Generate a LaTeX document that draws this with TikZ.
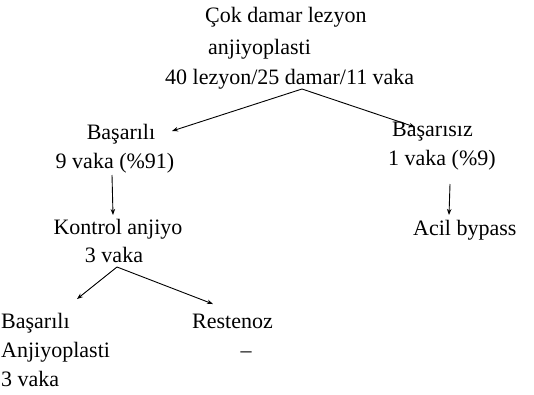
\documentclass[tikz,border=0pt]{standalone}
\usepackage{fontspec}
\setmainfont{Liberation Serif}
\usetikzlibrary{arrows.meta}
\begin{document}
\begin{tikzpicture}[x=1pt,y=-1pt,
  txt/.style={inner sep=0pt,font=\fontsize{22}{26}\selectfont},
  arr/.style={-{Stealth[length=6pt,width=4.5pt]},line width=0.9pt}]
\useasboundingbox (0,0) rectangle (534,394);
\node[txt,anchor=base west] (top1) at (205,22) {Çok damar lezyon};
\node[txt,anchor=base west] (top2) at (208,54) {anjiyoplasti};
\node[txt,anchor=base west] (top3) at (165,84) {40 lezyon/25 damar/11 vaka};
\node[txt,anchor=base] (b1) at (121,139) {Başarılı};
\node[txt,anchor=base] (b2) at (115,168) {9 vaka (\%91)};
\node[txt,anchor=base west] (s1) at (392,136) {Başarısız};
\node[txt,anchor=base west] (s2) at (388,165) {1 vaka (\%9)};
\node[txt,anchor=base] (k1) at (118,234) {Kontrol anjiyo};
\node[txt,anchor=base] (k2) at (114,262) {3 vaka};
\node[txt,anchor=base west] (acil) at (413,235) {Acil bypass};
\node[txt,anchor=base west] (c1) at (1,328) {Başarılı};
\node[txt,anchor=base west] (c2) at (1,357) {Anjiyoplasti};
\node[txt,anchor=base west] (c3) at (1,386) {3 vaka};
\node[txt,anchor=base west] (rest) at (192,328) {Restenoz};
\node[txt,anchor=base] (rdash) at (246,357) {--};
\coordinate (apex) at (302,89);
\coordinate (e1) at (172,131);
\coordinate (e2) at (415,127);
\coordinate (v1a) at (112,175);
\coordinate (v1b) at (113,215);
\coordinate (v2a) at (450,184);
\coordinate (v2b) at (449,215);
\coordinate (apex2) at (117,267);
\coordinate (e3) at (77,299);
\coordinate (e4) at (213,304);
\draw[arr] (apex) -- (e1);
\draw[arr] (apex) -- (e2);
\draw[arr] (v1a) -- (v1b);
\draw[arr] (v2a) -- (v2b);
\draw[arr] (apex2) -- (e3);
\draw[arr] (apex2) -- (e4);
\end{tikzpicture}
\end{document}
